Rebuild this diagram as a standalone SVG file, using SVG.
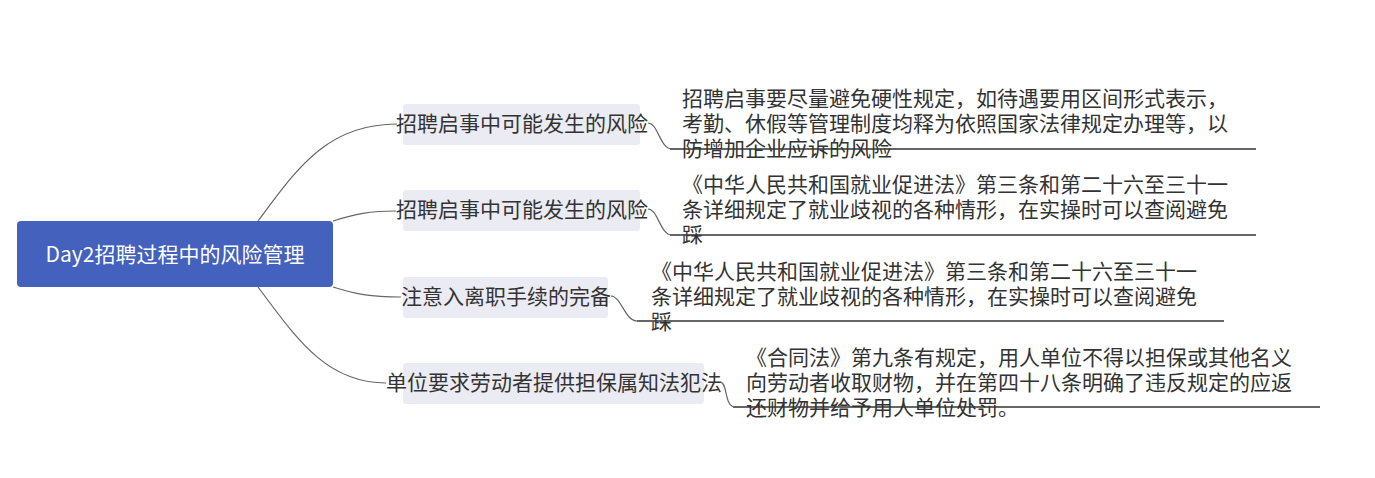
<svg xmlns="http://www.w3.org/2000/svg" width="1375" height="478" viewBox="0 0 1375 478">
<style>
.conn{fill:none;stroke:#666;stroke-width:1.2}
.ul{fill:none;stroke:#666;stroke-width:2}
.bbg{fill:#ebebf3}
.t{font-family:"Noto Sans CJK SC","Noto Sans",sans-serif;font-size:21px;fill:#333}
.bt{text-anchor:middle}
.root{font-family:"Noto Sans CJK SC","Noto Sans",sans-serif;font-size:21px;fill:#fff;text-anchor:middle}
</style>
<rect width="1375" height="478" fill="#fff"/>
<g id="connectors">
<path class="conn" d="M258,221 C295,172 325,124 397,124"/>
<path class="conn" d="M333,221 C355,214 370,211 396,211"/>
<path class="conn" d="M333,287 C355,294 370,297 401,297"/>
<path class="conn" d="M258,287 C295,336 325,383 386,383"/>
<path class="conn" d="M648,123 C658,123 660,149 672,149"/>
<path class="conn" d="M648,209 C658,209 660,235 672,235"/>
<path class="conn" d="M611,296 C621,296 625,321 637,321"/>
<path class="conn" d="M720,382 C728,382 724,407 735,407"/>
<path class="ul" d="M670,149 H1256"/>
<path class="ul" d="M670,235 H1256"/>
<path class="ul" d="M637,321 H1224"/>
<path class="ul" d="M733,407 H1320"/>
</g>
<g id="root">
<rect x="17" y="221" width="316" height="66" rx="4" fill="#4361bd"/>
<text class="root" x="175" y="262">Day2招聘过程中的风险管理</text>
</g>
<g id="branch1">
<rect class="bbg" x="403" y="104" width="237" height="41" rx="3"/>
<text class="t bt" x="522" y="131">招聘启事中可能发生的风险</text>
</g>
<g id="branch2">
<rect class="bbg" x="403" y="190" width="237" height="41" rx="3"/>
<text class="t bt" x="522" y="217">招聘启事中可能发生的风险</text>
</g>
<g id="branch3">
<rect class="bbg" x="403" y="277" width="205" height="41" rx="3"/>
<text class="t bt" x="506" y="304">注意入离职手续的完备</text>
</g>
<g id="branch4">
<rect class="bbg" x="403" y="363" width="301" height="41" rx="3"/>
<text class="t bt" x="554" y="390">单位要求劳动者提供担保属知法犯法</text>
</g>
<g id="detail1">
<text class="t" x="682" y="106"><tspan x="682" y="106">招聘启事要尽量避免硬性规定，如待遇要用区间形式表示，</tspan><tspan x="682" y="131">考勤、休假等管理制度均释为依照国家法律规定办理等，以</tspan><tspan x="682" y="156">防增加企业应诉的风险</tspan></text>
</g>
<g id="detail2">
<text class="t" x="682" y="192"><tspan x="682" y="192">《中华人民共和国就业促进法》第三条和第二十六至三十一</tspan><tspan x="682" y="217">条详细规定了就业歧视的各种情形，在实操时可以查阅避免</tspan><tspan x="682" y="242">踩</tspan></text>
</g>
<g id="detail3">
<text class="t" x="651" y="279"><tspan x="651" y="279">《中华人民共和国就业促进法》第三条和第二十六至三十一</tspan><tspan x="651" y="304">条详细规定了就业歧视的各种情形，在实操时可以查阅避免</tspan><tspan x="651" y="329">踩</tspan></text>
</g>
<g id="detail4">
<text class="t" x="746" y="365"><tspan x="746" y="365">《合同法》第九条有规定，用人单位不得以担保或其他名义</tspan><tspan x="746" y="390">向劳动者收取财物，并在第四十八条明确了违反规定的应返</tspan><tspan x="746" y="415">还财物并给予用人单位处罚。</tspan></text>
</g>
</svg>
